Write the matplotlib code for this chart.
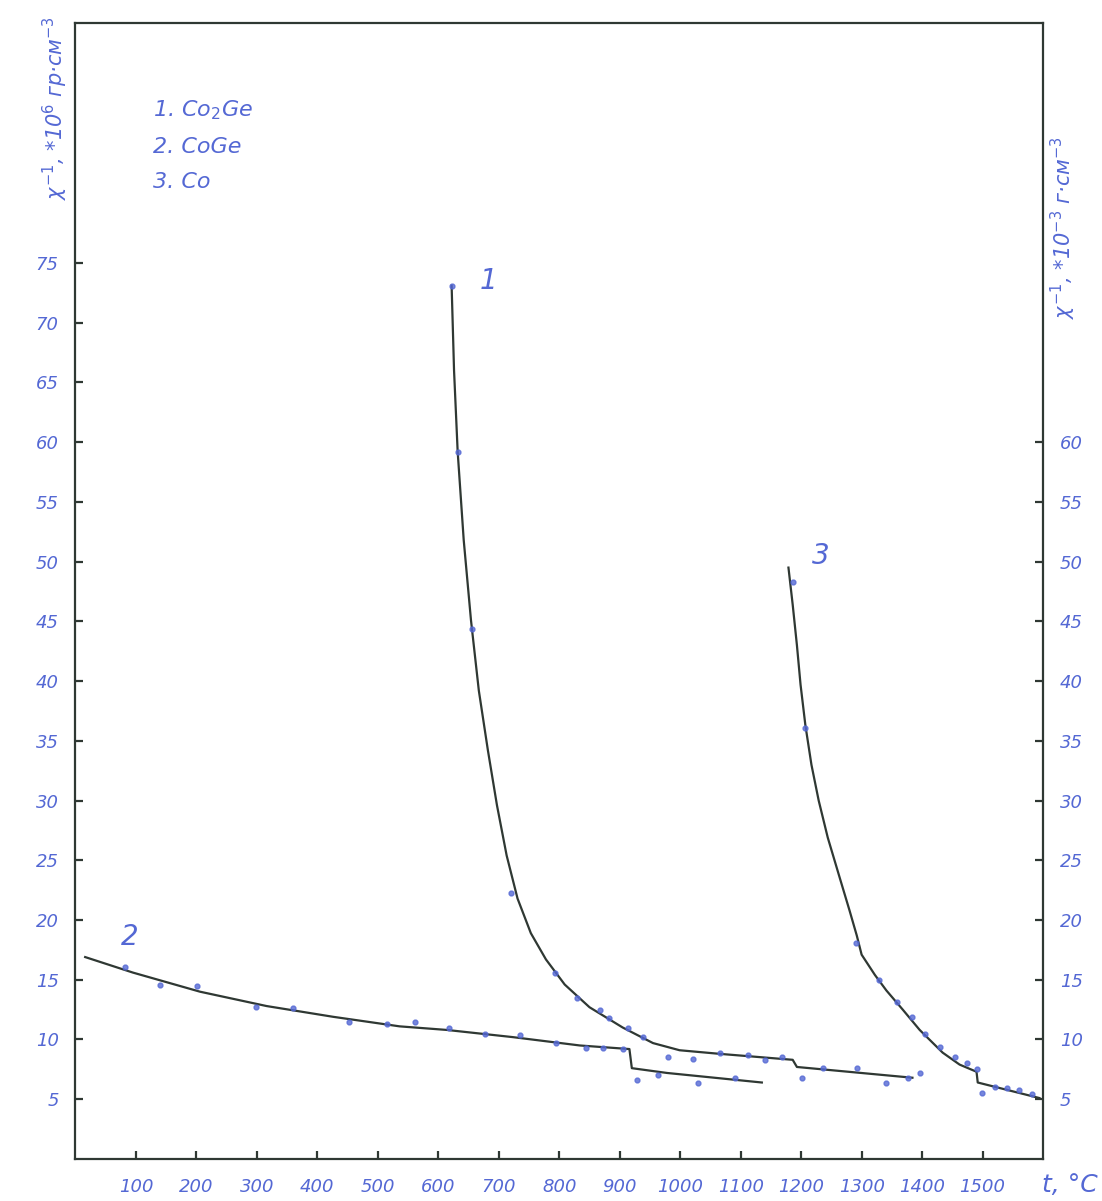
import numpy as np
import matplotlib.pyplot as plt

# Кривая 1 (Co2Ge): линия и экспериментальные точки
t1_line = [622, 626, 632, 642, 654, 667, 682, 697, 713, 731, 753, 778, 809, 850, 905, 955, 999, 1065, 1186, 1193, 1384]
chi1_line = [73.1, 66.0, 59.2, 51.8, 45.1, 39.2, 34.2, 29.6, 25.4, 21.8, 18.9, 16.7, 14.6, 12.7, 11.0, 9.7, 9.1, 8.8, 8.3, 7.7, 6.8]
t1_pts = [622, 632, 655, 721, 793, 829, 867, 883, 913, 938, 979, 1021, 1065, 1112, 1140, 1169, 1202, 1236, 1292, 1341, 1376, 1396]
chi1_pts = [73.1, 59.2, 44.4, 22.3, 15.6, 13.5, 12.5, 11.8, 11.0, 10.2, 8.5, 8.4, 8.9, 8.7, 8.3, 8.5, 6.8, 7.6, 7.6, 6.4, 6.8, 7.2]

# Кривая 2 (CoGe)
t2_line = [16, 95, 206, 316, 426, 536, 614, 723, 834, 916, 920, 978, 1135]
chi2_line = [16.9, 15.6, 14.0, 12.8, 11.9, 11.1, 10.8, 10.2, 9.5, 9.2, 7.6, 7.2, 6.4]
t2_pts = [82, 140, 201, 298, 360, 452, 515, 561, 617, 677, 735, 794, 845, 872, 905, 928, 963, 1029, 1090]
chi2_pts = [16.1, 14.6, 14.5, 12.7, 12.6, 11.5, 11.3, 11.5, 11.0, 10.5, 10.4, 9.7, 9.3, 9.3, 9.2, 6.6, 7.0, 6.4, 6.8]

# Кривая 3 (Co)
t3_line = [1179, 1186, 1193, 1199, 1207, 1217, 1229, 1244, 1264, 1280, 1292, 1300, 1322, 1341, 1368, 1396, 1434, 1462, 1490, 1492, 1594]
chi3_line = [49.5, 46.4, 43.0, 39.7, 36.3, 33.0, 30.0, 26.9, 23.5, 20.8, 18.7, 17.1, 15.4, 14.1, 12.5, 10.8, 8.9, 7.9, 7.3, 6.4, 5.1]
t3_pts = [1186, 1206, 1290, 1328, 1359, 1383, 1404, 1429, 1454, 1474, 1490, 1499, 1520, 1540, 1561, 1582]
chi3_pts = [48.3, 36.1, 18.1, 15.0, 13.1, 11.9, 10.5, 9.4, 8.5, 8.0, 7.5, 5.5, 6.0, 5.9, 5.8, 5.4]

x_ticks = [100, 200, 300, 400, 500, 600, 700, 800, 900, 1000, 1100, 1200, 1300, 1400, 1500]
y_ticks_left = [5, 10, 15, 20, 25, 30, 35, 40, 45, 50, 55, 60, 65, 70, 75]
y_ticks_right = [5, 10, 15, 20, 25, 30, 35, 40, 45, 50, 55, 60]

ink = "#5468d4"
pencil = "#2f3833"

fig = plt.figure(figsize=(11.02, 12.01), dpi=100)
ax = fig.add_axes([0.0685, 0.035, 0.878, 0.946])
ax.set_xlim(0, 1600)
ax.set_ylim(0, 95.1)

for tl, cl in [(t1_line, chi1_line), (t2_line, chi2_line), (t3_line, chi3_line)]:
    ax.plot(tl, cl, color=pencil, lw=1.6)
for tp, cp in [(t1_pts, chi1_pts), (t2_pts, chi2_pts), (t3_pts, chi3_pts)]:
    ax.plot(tp, cp, 'o', color=ink, ms=3.5, alpha=0.8)

for s in ax.spines.values():
    s.set_color(pencil)
    s.set_linewidth(1.6)

ax.set_xticks(x_ticks)
ax.set_xticklabels([str(v) for v in x_ticks])
ax.set_yticks(y_ticks_left)
ax.set_yticklabels([str(v) for v in y_ticks_left])
ax.tick_params(axis='both', direction='in', length=6, width=1.6, color=pencil,
               labelcolor=ink, labelsize=13)
ax.tick_params(axis='x', pad=14)
ax.tick_params(axis='y', pad=12)
for lab in ax.get_xticklabels() + ax.get_yticklabels():
    lab.set_style('italic')

ax2 = ax.twinx()
ax2.set_ylim(0, 95.1)
ax2.set_yticks(y_ticks_right)
ax2.set_yticklabels([str(v) for v in y_ticks_right])
ax2.tick_params(axis='y', direction='in', length=6, width=1.6, color=pencil,
                labelcolor=ink, labelsize=13, pad=12)
for lab in ax2.get_yticklabels():
    lab.set_style('italic')
for s in ax2.spines.values():
    s.set_visible(False)

# подписи кривых
ax.text(669, 73.5, "1", color=ink, fontsize=20, style='italic', va='center')
ax.text(75, 18.6, "2", color=ink, fontsize=20, style='italic', va='center')
ax.text(1218, 50.5, "3", color=ink, fontsize=20, style='italic', va='center')

# легенда
ax.text(128, 87.8, "1. Co$_2$Ge", color=ink, fontsize=16, style='italic', va='center')
ax.text(128, 84.7, "2. CoGe", color=ink, fontsize=16, style='italic', va='center')
ax.text(128, 81.8, "3. Co", color=ink, fontsize=16, style='italic', va='center')

# подписи осей
fig.text(55 / 1102, 1 - 108 / 1201, r"$\chi^{-1}$, *10$^{6}$ гр·см$^{-3}$",
         color=ink, fontsize=15, rotation=90, ha='center', va='center', style='italic')
fig.text(1063 / 1102, 1 - 228 / 1201, r"$\chi^{-1}$, *10$^{-3}$ г·см$^{-3}$",
         color=ink, fontsize=15, rotation=90, ha='center', va='center', style='italic')
fig.text(1070 / 1102, 1 - 1185 / 1201, "t, °C", color=ink, fontsize=18,
         ha='center', va='center', style='italic')

fig.savefig("out.png", dpi=100)
